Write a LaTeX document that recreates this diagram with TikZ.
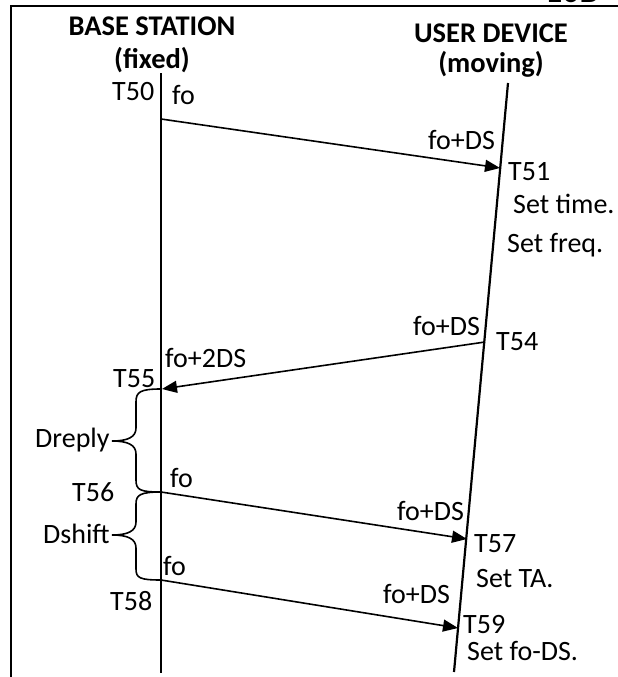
\documentclass[tikz,border=0pt]{standalone}
\usepackage{fontspec}
\setmainfont{Carlito}
\usetikzlibrary{arrows.meta}
\begin{document}
\begin{tikzpicture}[x=1pt,y=-1pt,
  lbl/.style={anchor=base west,inner sep=0pt,font=\fontsize{28}{32}\selectfont},
  ttl/.style={anchor=base,inner sep=0pt,font=\fontsize{28.5}{32}\selectfont\bfseries},
  life/.style={line width=2.2pt},
  msg/.style={line width=1.6pt,-{Triangle[length=15pt,width=12pt]}},
  frm/.style={line width=1.3pt},
  brc/.style={line width=1.6pt}]
\useasboundingbox (0,0) rectangle (618,677);
\clip (0,0) rectangle (618,677);
% frame
\draw[frm] (11,677) -- (11,6) -- (618,6);
\node[anchor=base west,inner sep=0pt,font=\fontsize{34}{36}\selectfont\bfseries] (fig) at (545,3) {10B};
% titles
\node[ttl] (bs) at (152,36) {BASE STATION};
\node[ttl] (bsf) at (152,68) {(fixed)};
\node[ttl] (ud) at (491,43) {USER DEVICE};
\node[ttl] (udm) at (491,73) {(moving)};
% lifelines
\coordinate (btop) at (161,73);
\coordinate (bbot) at (161,673);
\coordinate (utop) at (508,83);
\coordinate (ubot) at (454,672);
\draw[life] (btop) -- (bbot);
\draw[life] (utop) -- (ubot);
% message points
\coordinate (b50) at (161,119);
\coordinate (u51) at (500,168);
\coordinate (u54) at (485,342);
\coordinate (b55) at (162,389);
\coordinate (b56) at (161,492);
\coordinate (u57) at (467,539);
\coordinate (b58) at (161,580);
\coordinate (u59) at (458,628);
\draw[msg] (b50) -- (u51);
\draw[msg] (u54) -- (b55);
\draw[msg] (b56) -- (u57);
\draw[msg] (b58) -- (u59);
% labels
\node[lbl] (t50) at (112,100) {T50};
\node[lbl] (f50) at (172,104) {fo};
\node[lbl] (f51) at (428,149) {fo+DS};
\node[lbl] (t51) at (508,180) {T51};
\node[lbl] (st) at (513,213) {Set time.};
\node[lbl] (sf) at (507,252) {Set freq.};
\node[lbl] (f54) at (413,335) {fo+DS};
\node[lbl] (t54) at (496,350) {T54};
\node[lbl] (f55) at (165,367) {fo+2DS};
\node[lbl] (t55) at (113,387) {T55};
\node[lbl] (dr) at (35,447) {Dreply};
\node[lbl] (f56) at (170,487) {fo};
\node[lbl] (t56) at (72,501) {T56};
\node[lbl] (ds) at (43,543) {Dshift};
\node[lbl] (f58) at (163,575) {fo};
\node[lbl] (t58) at (110,610) {T58};
\node[lbl] (f57) at (397,520) {fo+DS};
\node[lbl] (t57) at (474,552) {T57};
\node[lbl] (sta) at (476,587) {Set TA.};
\node[lbl] (f59) at (383,603) {fo+DS};
\node[lbl] (t59) at (463,633) {T59};
\node[lbl] (sfo) at (467,660) {Set fo-DS.};
% braces
\coordinate (dtip) at (112,441);
\coordinate (stip) at (112,535);
\draw[brc] (161,389) .. controls (140,389) and (136,392) .. (136,402) -- (136,428)
  .. controls (136,437) and (128,441) .. (dtip)
  .. controls (128,441) and (136,445) .. (136,454) -- (136,480)
  .. controls (136,490) and (140,492) .. (b56);
\draw[brc] (b56) .. controls (140,492) and (136,495) .. (136,504) -- (136,522)
  .. controls (136,531) and (128,535) .. (stip)
  .. controls (128,535) and (136,539) .. (136,548) -- (136,569)
  .. controls (136,578) and (140,580) .. (b58);
\end{tikzpicture}
\end{document}
